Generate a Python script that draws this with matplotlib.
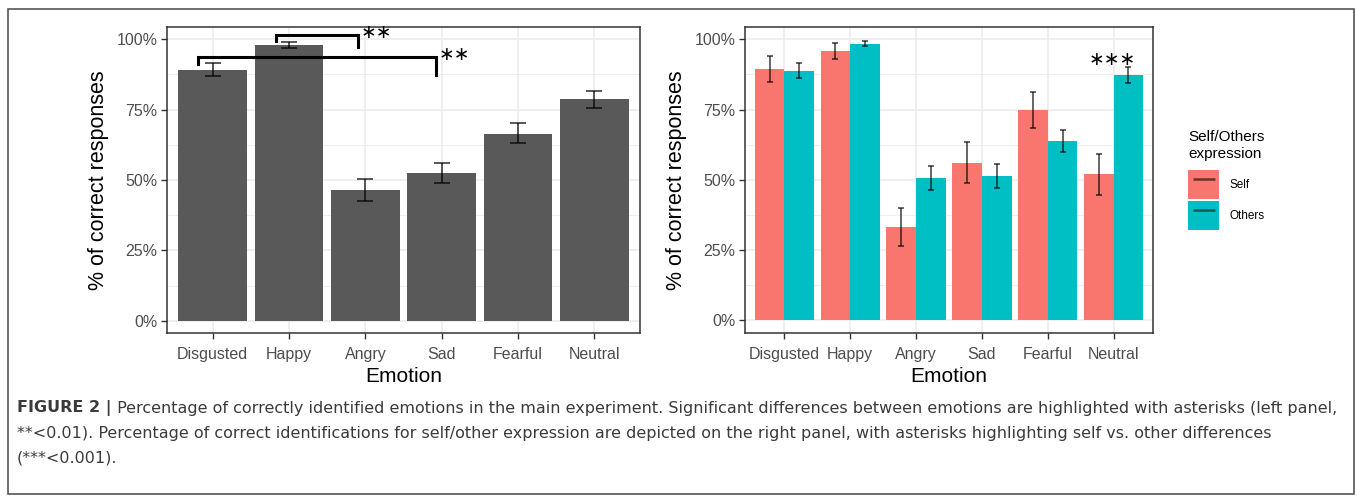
import matplotlib

matplotlib.use("Agg")
import matplotlib.pyplot as plt
import numpy as np
from matplotlib.legend_handler import HandlerTuple
from matplotlib.lines import Line2D
from matplotlib.patches import Patch, Rectangle

# ---- data ----------------------------------------------------------------
emotions = ["Disgusted", "Happy", "Angry", "Sad", "Fearful", "Neutral"]

# left panel: overall accuracy per emotion (%), with error bar limits
overall = [89.0, 98.0, 46.3, 52.5, 66.5, 78.6]
overall_lo = [86.8, 96.7, 42.7, 48.8, 63.3, 75.7]
overall_hi = [91.4, 99.1, 50.2, 56.2, 70.1, 81.7]

# right panel: self vs. others expression (%)
self_vals = [89.3, 95.7, 33.1, 56.1, 74.8, 51.9]
self_lo = [84.9, 92.9, 26.4, 48.8, 68.5, 44.7]
self_hi = [94.1, 98.7, 40.1, 63.4, 81.4, 59.3]
others_vals = [88.7, 98.5, 50.6, 51.3, 63.8, 87.4]
others_lo = [86.1, 97.6, 46.3, 47.1, 59.7, 84.4]
others_hi = [91.4, 99.5, 54.8, 55.6, 67.8, 90.3]

# significance brackets on the left panel: (from, to, top, left foot, right foot, label)
brackets = [
    ("Happy", "Angry", 101.6, 99.4, 97.3, "∗∗"),
    ("Disgusted", "Sad", 93.5, 91.1, 87.4, "∗∗"),
]
# self vs. others star on the right panel
right_star = ("Neutral", 93.0, "∗∗∗")

caption_head = "FIGURE 2 |"
caption_lines = [
    " Percentage of correctly identified emotions in the main experiment. Significant differences between emotions are highlighted with asterisks (left panel,",
    "**<0.01). Percentage of correct identifications for self/other expression are depicted on the right panel, with asterisks highlighting self vs. other differences",
    "(***<0.001).",
]

# ---- style ---------------------------------------------------------------
GREY_BAR = "#595959"
SELF_C = "#F8766D"
OTHERS_C = "#00BFC4"
GRID = "#EBEBEB"
FRAME = "#333333"
TICK_TXT = "#4D4D4D"

plt.rcParams["font.family"] = ["Liberation Sans", "DejaVu Sans"]

W, H = 1357, 498
fig = plt.figure(figsize=(W / 100, H / 100), dpi=100)
fig.patch.set_facecolor("white")

ax1 = fig.add_axes([167 / W, 1 - 333 / H, (640 - 167) / W, (333 - 27) / H])
ax2 = fig.add_axes([745 / W, 1 - 333 / H, (1153 - 745) / W, (333 - 27) / H])


def style_axes(ax, ylim):
    ax.set_xlim(-0.6, len(emotions) - 0.4)
    ax.set_ylim(*ylim)
    ax.set_yticks([0, 25, 50, 75, 100])
    ax.set_yticklabels(["0%", "25%", "50%", "75%", "100%"])
    ax.set_yticks([12.5, 37.5, 62.5, 87.5], minor=True)
    ax.set_xticks(range(len(emotions)))
    ax.set_xticklabels(emotions)
    ax.grid(True, which="major", color=GRID, lw=1.1, zorder=0)
    ax.grid(True, which="minor", axis="y", color=GRID, lw=0.6, zorder=0)
    ax.set_axisbelow(True)
    ax.tick_params(axis="both", which="major", direction="out", length=4,
                   width=1, color=FRAME, labelcolor=TICK_TXT, labelsize=11.5, pad=3)
    ax.tick_params(axis="x", which="major", pad=6)
    ax.tick_params(axis="y", which="minor", length=0)
    for s in ax.spines.values():
        s.set_color(FRAME)
        s.set_linewidth(1.1)
    ax.set_xlabel("Emotion", fontsize=15, labelpad=4, color="black")
    ax.set_ylabel("% of correct responses", fontsize=15.5, labelpad=5, color="black")


x = np.arange(len(emotions))

# left panel
style_axes(ax1, (-4.3, 104.3))
ax1.bar(x, overall, width=0.9, color=GREY_BAR, zorder=2)
ov = np.array(overall)
ax1.errorbar(x, ov, yerr=[ov - np.array(overall_lo), np.array(overall_hi) - ov],
             fmt="none", ecolor="black", alpha=0.7, elinewidth=1.3,
             capsize=5.5, capthick=1.3, zorder=3)

for start, end, top, foot_l, foot_r, label in brackets:
    x0 = emotions.index(start) - (0.17 if start == "Happy" else 0.19)
    x1 = emotions.index(end) - (0.09 if end == "Angry" else 0.07)
    ax1.plot([x0, x0, x1, x1], [foot_l, top, top, foot_r], color="black",
             lw=2.2, solid_joinstyle="miter", clip_on=False, zorder=4)
    ax1.text(x1 + 0.03, top + 0.9, label, fontsize=13.5, ha="left", va="center",
             family="DejaVu Sans", clip_on=False, zorder=4)

# right panel
style_axes(ax2, (-4.6, 104.4))
half = 0.45
sv, what = np.array(self_vals), np.array(others_vals)
ax2.bar(x - half / 2, sv, width=half, color=SELF_C, zorder=2)
ax2.bar(x + half / 2, what, width=half, color=OTHERS_C, zorder=2)
ax2.errorbar(x - half / 2, sv, yerr=[sv - np.array(self_lo), np.array(self_hi) - sv],
             fmt="none", ecolor="black", alpha=0.6, elinewidth=1.4,
             capsize=2.2, capthick=1.4, zorder=3)
ax2.errorbar(x + half / 2, what, yerr=[what - np.array(others_lo), np.array(others_hi) - what],
             fmt="none", ecolor="black", alpha=0.6, elinewidth=1.4,
             capsize=2.2, capthick=1.4, zorder=3)
ax2.text(emotions.index(right_star[0]) - 0.02, right_star[1], right_star[2],
         fontsize=13.5, ha="center", va="center", family="DejaVu Sans", zorder=4)

# legend keys: filled box with the error-bar stroke across it
handles = [
    (Patch(facecolor=SELF_C),
     Line2D([], [], ls="none", marker="_", markersize=16, markeredgewidth=1.8,
            markeredgecolor="#6b312d")),
    (Patch(facecolor=OTHERS_C),
     Line2D([], [], ls="none", marker="_", markersize=16, markeredgewidth=1.8,
            markeredgecolor="#1f5557")),
]
leg = fig.legend(handles, ["Self", "Others"], title="Self/Others\nexpression",
                 handler_map={tuple: HandlerTuple(ndivide=1, pad=0)},
                 loc="upper left", bbox_to_anchor=(1186 / W, 1 - 128 / H),
                 frameon=False, fontsize=8.5, title_fontsize=11, numpoints=1,
                 handlelength=2.6, handleheight=3.4, handletextpad=0.9,
                 labelspacing=0.15, borderpad=0.2, borderaxespad=0)
leg._legend_box.align = "left"
leg._legend_box.sep = 7

# caption under both panels
cap_font = ["Liberation Sans Narrow", "DejaVu Sans Condensed", "DejaVu Sans"]
cap_color = "#3a3a3a"
ys = [408, 433, 458]
head = fig.text(17 / W, 1 - ys[0] / H, caption_head, fontsize=11.5, fontweight="bold",
                family=cap_font, color=cap_color, va="center", ha="left")
fig.add_artist(plt.Annotation(caption_lines[0], xy=(1, 0.5), xycoords=head,
                              va="center", ha="left", fontsize=11.5,
                              family=cap_font, color=cap_color))
for line, yy in zip(caption_lines[1:], ys[1:]):
    fig.text(17 / W, 1 - yy / H, line, fontsize=11.5, family=cap_font,
             color=cap_color, va="center", ha="left")

# thin frame around the whole figure
fig.add_artist(Rectangle((8 / W, 4 / H), (1354 - 8) / W, (494 - 9) / H,
                         transform=fig.transFigure, fill=False,
                         edgecolor="#555555", lw=1.2))

fig.savefig("out.png", dpi=100, facecolor="white")
